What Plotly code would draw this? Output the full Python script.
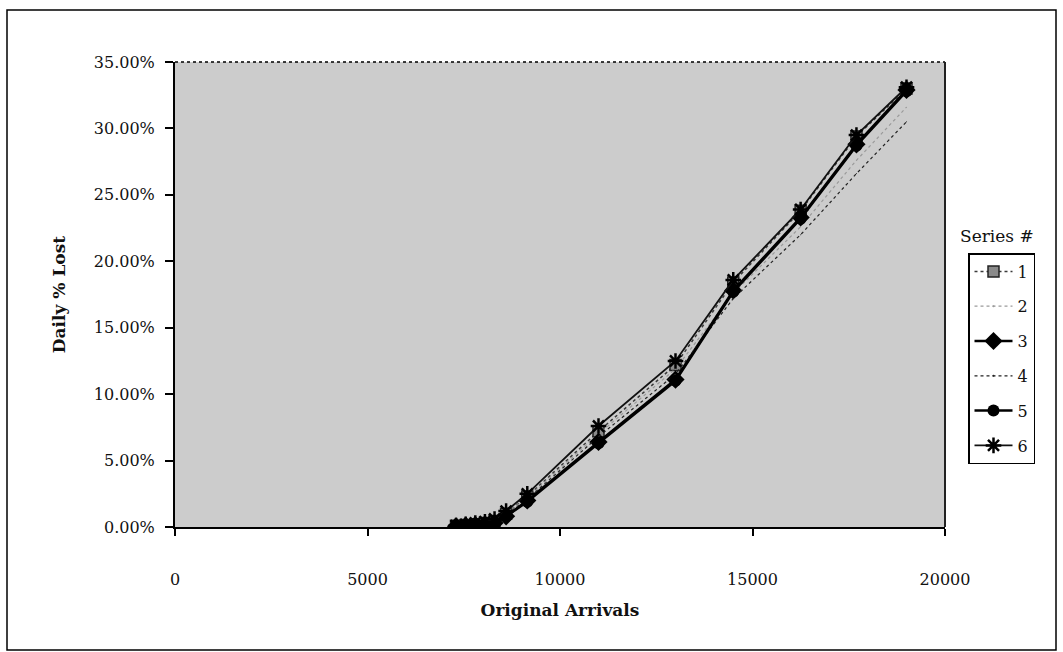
import plotly.graph_objects as go

# ---- data ----
arrivals = [7300, 7550, 7800, 8050, 8300, 8600, 9150, 11000, 13000, 14500, 16250, 17700, 19000]
series_names = ["1", "2", "3", "4", "5", "6"]
s1 = [0.10, 0.15, 0.20, 0.30, 0.45, 1.00, 2.30, 7.20, 12.20, 18.40, 23.80, 29.40, 33.00]
s2 = [0.10, 0.10, 0.20, 0.30, 0.40, 1.00, 2.20, 7.00, 11.90, 17.60, 22.60, 27.60, 31.60]
s3 = [0.05, 0.10, 0.15, 0.20, 0.30, 0.80, 2.00, 6.40, 11.10, 17.80, 23.30, 28.80, 32.90]
s4 = [0.05, 0.10, 0.15, 0.20, 0.30, 0.90, 2.10, 6.80, 11.50, 17.20, 22.00, 26.60, 30.50]
s5 = [0.05, 0.10, 0.15, 0.20, 0.30, 0.80, 1.90, 6.30, 11.00, 17.70, 23.20, 28.70, 32.80]
s6 = [0.10, 0.20, 0.30, 0.40, 0.60, 1.20, 2.50, 7.60, 12.50, 18.60, 23.90, 29.50, 33.10]
y_ticks = [0, 5, 10, 15, 20, 25, 30, 35]
y_tick_text = ["0.00%", "5.00%", "10.00%", "15.00%", "20.00%", "25.00%", "30.00%", "35.00%"]
x_ticks = [0, 5000, 10000, 15000, 20000]
x_tick_text = ["0", "5000", "10000", "15000", "20000"]

SERIF = "DejaVu Serif, Liberation Serif, serif"

# plot-area geometry in pixels
L, R, T, B = 175, 945, 62, 527
PW, PH = R - L, B - T

styles = {
    "1": dict(line=dict(color="#3a3a3a", width=1.5, dash="dot"),
              marker=dict(symbol="square", size=11, color="#8a8a8a", line=dict(color="#222", width=1.5))),
    "2": dict(line=dict(color="#9a9a9a", width=1.2, dash="dot"),
              marker=dict(symbol="circle", size=1, color="#9a9a9a")),
    "3": dict(line=dict(color="#000000", width=2.5),
              marker=dict(symbol="diamond", size=14, color="#000000")),
    "4": dict(line=dict(color="#222222", width=1.2, dash="dot"),
              marker=dict(symbol="circle", size=1, color="#222")),
    "5": dict(line=dict(color="#000000", width=2.5),
              marker=dict(symbol="circle", size=12, color="#000000")),
    "6": dict(line=dict(color="#111111", width=1.8),
              marker=dict(symbol="asterisk", size=13, color="#000", line=dict(color="#000", width=2.5))),
}
values = {"1": s1, "2": s2, "3": s3, "4": s4, "5": s5, "6": s6}

fig = go.Figure()
for name in series_names:
    fig.add_trace(go.Scatter(
        x=arrivals, y=values[name], name=name, mode="lines+markers",
        legendgroup=name, **styles[name]))

fig.update_layout(
    width=1063, height=652,
    margin=dict(l=L, r=1063 - R, t=T, b=652 - B),
    paper_bgcolor="white",
    plot_bgcolor="#cccccc",
    font=dict(family=SERIF, size=16, color="#111"),
    showlegend=True,
    legend=dict(
        x=(968 - L) / PW, y=(B - 253) / PH, xanchor="left", yanchor="top",
        bgcolor="white", bordercolor="#000", borderwidth=1.5,
        font=dict(family=SERIF, size=16, color="#111"),
        itemwidth=38, tracegroupgap=11, traceorder="grouped",
    ),
)

fig.update_xaxes(
    range=[0, 20000], tickvals=x_ticks, ticktext=x_tick_text,
    showgrid=False, zeroline=False,
    showline=True, linecolor="#000", linewidth=2,
    ticks="outside", ticklen=7, tickwidth=1.5, tickcolor="#000",
    ticklabelstandoff=30,
    tickfont=dict(family=SERIF, size=16, color="#111"),
    title=dict(text="Original Arrivals", standoff=16,
               font=dict(family=SERIF, size=17, color="#111", weight="bold")),
)
fig.update_yaxes(
    range=[0, 35], tickvals=y_ticks, ticktext=y_tick_text,
    showgrid=False, zeroline=False,
    showline=True, linecolor="#000", linewidth=2,
    ticks="outside", ticklen=8, tickwidth=1.5, tickcolor="#000",
    ticklabelstandoff=7,
    tickfont=dict(family=SERIF, size=16, color="#111"),
    title=dict(text="Daily % Lost", standoff=24,
               font=dict(family=SERIF, size=17, color="#111", weight="bold")),
)

# plot-area top (dotted) and right borders, outer frame
fig.add_shape(type="line", xref="paper", yref="paper", x0=0, x1=1, y0=1, y1=1,
              line=dict(color="#000", width=1.5, dash="dot"))
fig.add_shape(type="line", xref="paper", yref="paper", x0=1, x1=1, y0=0, y1=1,
              line=dict(color="#222", width=2))
fig.add_shape(type="rect", xref="paper", yref="paper",
              x0=(7 - L) / PW, x1=(1056 - L) / PW,
              y0=(B - 650) / PH, y1=(B - 10) / PH,
              line=dict(color="#000", width=1.5), layer="below")

fig.add_annotation(text="Series #", xref="paper", yref="paper",
                   x=(997 - L) / PW, y=(B - 236) / PH,
                   xanchor="center", yanchor="middle",
                   showarrow=False, font=dict(family=SERIF, size=17, color="#111"))

fig.write_html("out.html")
